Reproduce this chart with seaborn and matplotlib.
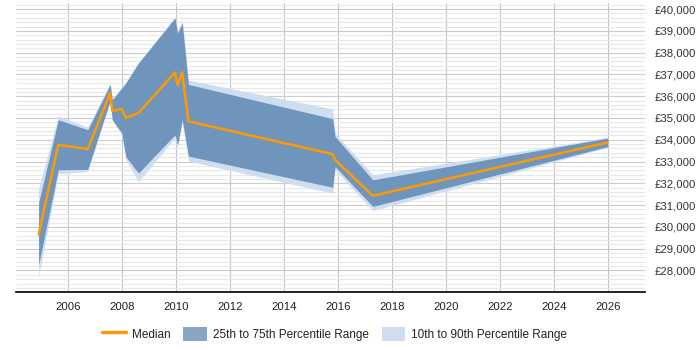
import matplotlib
matplotlib.use("Agg")
import numpy as np
import pandas as pd
import matplotlib.pyplot as plt
import seaborn as sns
from matplotlib.ticker import MultipleLocator, FuncFormatter
from matplotlib.patches import Patch
from matplotlib.lines import Line2D

# Values
years = [2004.92, 2005.65, 2006.74, 2007.57, 2007.65, 2008.0, 2008.15, 2008.62,
         2009.97, 2010.07, 2010.24, 2010.47, 2015.81, 2015.9, 2017.3, 2026.0]
median = [29650, 33770, 33570, 36140, 35330, 35410, 35000, 35230,
          37090, 36500, 37100, 34850, 33340, 33080, 31430, 33880]
p25 = [28260, 32620, 32640, 35800, 34920, 34310, 33230, 32470,
       34230, 33770, 34920, 33250, 31820, 32770, 30940, 33690]
p75 = [31100, 34920, 34460, 36530, 35840, 36370, 36600, 37520,
       39590, 38900, 39360, 36540, 34970, 34150, 32160, 34080]
p10 = [27700, 32440, 32540, 35750, 34880, 34250, 33100, 32080,
       34080, 33650, 34800, 33020, 31550, 32620, 30750, 33650]
p90 = [31750, 35100, 34580, 36600, 35880, 36400, 36650, 37560,
       39620, 38950, 39510, 36740, 35420, 34300, 32390, 34110]

x_ticks = list(range(2006, 2027, 2))
y_ticks = list(range(28000, 40001, 1000))

df = pd.DataFrame({"Year": years, "Median": median,
                   "P10": p10, "P25": p25, "P75": p75, "P90": p90})

sns.set_style("white")
plt.rcParams["font.family"] = ["Liberation Sans", "DejaVu Sans"]

c_median = "#ff9900"
c_dark = "#7095bd"
c_light = "#cedef0"

fig = plt.figure(figsize=(7, 3.5), dpi=100)
ax = fig.add_axes([0.0229, 0.165, 0.8986, 0.8277])

ax.fill_between(df["Year"], df["P10"], df["P90"], color=c_light, lw=0, zorder=2)
ax.fill_between(df["Year"], df["P25"], df["P75"], color=c_dark, lw=0, zorder=3)
sns.lineplot(data=df, x="Year", y="Median", ax=ax, color=c_median, lw=1.8,
             zorder=4, legend=False)

ax.set_xlim(2004.085, 2027.38)
ax.set_ylim(27000, 40300)

ax.set_xticks(x_ticks)
ax.set_yticks(y_ticks)
ax.yaxis.set_minor_locator(MultipleLocator(200))
ax.yaxis.tick_right()
ax.yaxis.set_major_formatter(FuncFormatter(lambda v, p: f"£{int(v):,}"))

ax.grid(axis="x", which="major", color="#c4c4c4", lw=0.8, zorder=0)
ax.grid(axis="y", which="major", color="#cccccc", lw=0.8, zorder=0)
ax.grid(axis="y", which="minor", color="#e8e8e8", lw=0.8, zorder=0)

ax.tick_params(axis="y", which="both", length=0, pad=7, labelsize=8.2,
               colors="#333333", right=False)
ax.tick_params(axis="x", length=4, width=0.8, labelsize=8.2, pad=3)
ax.tick_params(axis="x", colors="black", labelcolor="#222222")

for side in ["top", "left", "right"]:
    ax.spines[side].set_visible(False)
ax.spines["bottom"].set_color("black")
ax.spines["bottom"].set_linewidth(1.2)
ax.set_xlabel("")
ax.set_ylabel("")

handles = [
    Line2D([0], [0], color=c_median, lw=2.5),
    Patch(facecolor="#87a5c7", edgecolor="none"),
    Patch(facecolor=c_light, edgecolor="none"),
]
labels = ["Median", "25th to 75th Percentile Range", "10th to 90th Percentile Range"]
fig.legend(handles, labels, loc="center", bbox_to_anchor=(0.478, 0.046), ncol=3,
           frameon=False, fontsize=8.5, handlelength=2.0, handleheight=1.4,
           columnspacing=1.1, handletextpad=0.5, labelcolor="#222222")

fig.savefig("out.png", dpi=100)
